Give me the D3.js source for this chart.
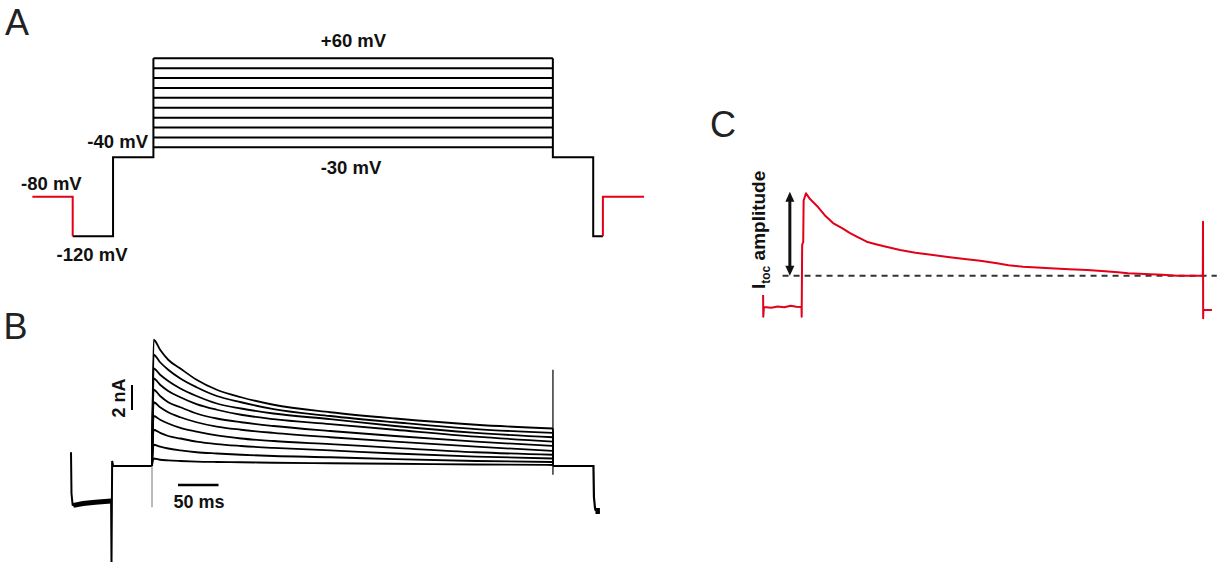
<!DOCTYPE html>
<html><head><meta charset="utf-8">
<script src="https://cdn.jsdelivr.net/npm/d3@7"></script>
<style>
html,body{margin:0;padding:0;background:#fff;}
svg{display:block;}
text{font-family:"Liberation Sans",Arial,sans-serif;}
</style></head><body>
<svg id="fig" width="1225" height="562"></svg>
<script>
// ================= DATA =================
// Panel A – voltage protocol (time in ms, potential in mV)
const testLevels = [-30, -20, -10, 0, 10, 20, 30, 40, 50, 60];
const holdingPre  = [[-50, -80], [0, -80], [0, -120]];
const stepPre     = [[0, -120], [50, -120], [50, -40], [100, -40], [100, 60]];
const stepPost    = [[595, 60], [595, -40], [645, -40], [645, -120], [657, -120]];
const holdingPost = [[657, -120], [657, -80], [708, -80]];
const pulseStart = 100, pulseEnd = 595;
const labelsA = ["+60 mV", "-30 mV", "-40 mV", "-80 mV", "-120 mV"];

// Panel B – current sweeps (time after pulse onset in ms, current in nA)
const sweepTimes = [0, 2, 10, 20, 35, 55, 80, 110, 150, 220, 300, 400, 495];
const sweepP60 = [0, 10.1, 9.3, 8.5, 7.8, 6.9, 6.1, 5.5, 4.9, 4.3, 3.8, 3.3, 3.0];
const sweepP50 = [0, 8.9, 8.3, 7.7, 7.0, 6.3, 5.6, 5.1, 4.55, 4.0, 3.5, 2.95, 2.65];
const sweepP40 = [0, 7.8, 7.3, 6.8, 6.2, 5.6, 5.0, 4.6, 4.2, 3.75, 3.2, 2.65, 2.3];
const sweepP30 = [0, 7.0, 6.5, 6.0, 5.5, 4.95, 4.5, 4.1, 3.75, 3.35, 2.9, 2.35, 1.95];
const sweepP20 = [0, 6.1, 5.6, 5.1, 4.7, 4.2, 3.8, 3.5, 3.2, 2.8, 2.4, 1.95, 1.6];
const sweepP10 = [0, 5.1, 4.7, 4.3, 3.9, 3.5, 3.15, 2.9, 2.65, 2.3, 1.95, 1.55, 1.2];
const sweep0   = [0, 4.0, 3.7, 3.4, 3.05, 2.75, 2.45, 2.2, 2.0, 1.75, 1.45, 1.1, 0.9];
const sweepM10 = [0, 2.9, 2.65, 2.4, 2.2, 1.95, 1.75, 1.6, 1.45, 1.25, 1.0, 0.75, 0.6];
const sweepM20 = [0, 1.7, 1.55, 1.4, 1.25, 1.1, 1.0, 0.9, 0.8, 0.7, 0.55, 0.4, 0.32];
const sweepM30 = [0, 0.6, 0.5, 0.45, 0.4, 0.35, 0.32, 0.3, 0.26, 0.22, 0.18, 0.12, 0.08];
// common part before the test pulse (ms from start, nA)
const prePulseTrace = [[0, 1.1], [0.6, -2.2], [2, -3.1], [5, -3.2], [15, -3.05], [30, -2.95],
                       [49.5, -2.8], [50, -7.9], [50.8, 0.4], [52, 0], [100, 0]];
const prePulseBand = [[3, -3.15], [15, -3.0], [30, -2.9], [49.5, -2.8]];
const postPulseTrace = [[595, 0], [645, 0], [645.6, -2.5], [647, -3.4], [648, -3.6]];
const postPulseBlob = [[647.5, -3.6], [653, -3.6]];
const onArtifact = [[100, 0], [100, -3.3]];
const offArtifact = [[595, 7.7], [595, -0.7]];
const scaleCurrent = 2;   // nA
const scaleTime = 50;     // ms

// Panel C – single I_toc trace (ms, nA)
const cTrace = [[52, 1.06], [52.2, -0.67], [53, 0.1], [62, 0.05], [70, 0.15], [78, 0.08],
  [86, 0.2], [93, 0.12], [99.4, 0.1], [99.6, -0.67], [100.2, 5.1], [101.5, 5.3], [102, 8.6],
  [104.9, 9.2], [109.9, 8.74], [119.8, 8.1], [128, 7.45], [138.3, 6.82], [150, 6.4],
  [159.3, 6.02], [170, 5.65], [179.9, 5.33], [190, 5.15], [200, 4.98], [221, 4.66],
  [240, 4.45], [261.7, 4.26], [280, 4.1], [303.3, 3.92], [320, 3.8], [340.7, 3.6],
  [355, 3.45], [372.8, 3.33], [390, 3.27], [406.2, 3.2], [430, 3.12], [451.9, 3.06],
  [470, 2.98], [490, 2.88], [502.5, 2.8], [530, 2.72], [545, 2.68], [563, 2.61],
  [594.8, 2.61], [595, 6.93], [595.2, -0.8], [595.4, -0.14], [606, -0.14]];
const cSteadyState = 2.6;
const cPeak = 9.2;
const cDashRange = [76, 612];

// ================= DRAW =================
const svg = d3.select("#fig");
svg.append("rect").attr("width", 1225).attr("height", 562).attr("fill", "#fff");
const RED = "#e2001a";

// panel letters
[["A", 5, 35], ["B", 3.5, 339], ["C", 710, 137]].forEach(([t, x, y]) =>
  svg.append("text").attr("x", x).attr("y", y).attr("font-size", 36)
     .attr("fill", "#222").text(t));

// ---------- Panel A ----------
const xA = d3.scaleLinear().domain([-50, 708]).range([32.35, 644.05]);
const yA = d3.scaleLinear().domain([-120, 60]).range([236.3, 58.3]);
const lineA = d3.line().x(d => xA(d[0])).y(d => yA(d[1]));
const gA = svg.append("g").attr("fill", "none").attr("stroke-width", 2);
gA.selectAll("path.lvl").data(testLevels).join("path").attr("class", "lvl")
  .attr("stroke", "#000").attr("d", v => lineA([[pulseStart, v], [pulseEnd, v]]));
gA.append("path").attr("stroke", "#000").attr("d", lineA(stepPre));
gA.append("path").attr("stroke", "#000").attr("d", lineA(stepPost));
gA.append("path").attr("stroke", RED).attr("d", lineA(holdingPre));
gA.append("path").attr("stroke", RED).attr("d", lineA(holdingPost));

const boldText = (x, y, t, anchor) => svg.append("text").attr("x", x).attr("y", y)
  .attr("font-size", 18.5).attr("font-weight", "bold").attr("fill", "#111")
  .attr("text-anchor", anchor || "start").text(t);
boldText(353.5, 47, labelsA[0], "middle");
boldText(351, 174, labelsA[1], "middle");
boldText(148, 148, labelsA[2], "end");
boldText(21, 190, labelsA[3], "start");
boldText(92, 261, labelsA[4], "middle");

// ---------- Panel B ----------
const xB = d3.scaleLinear().domain([0, 655]).range([71, 71 + 655 * 0.81]);
const yB = d3.scaleLinear().domain([0, 10]).range([466, 341]);
const lineB = d3.line().x(d => xB(d[0])).y(d => yB(d[1]));
const curveB = d3.line().x(d => xB(d[0])).y(d => yB(d[1])).curve(d3.curveMonotoneX);
const gB = svg.append("g").attr("fill", "none").attr("stroke", "#000");
const sweeps = [sweepP60, sweepP50, sweepP40, sweepP30, sweepP20, sweepP10, sweep0, sweepM10, sweepM20, sweepM30];
gB.selectAll("path.sw").data(sweeps).join("path").attr("class", "sw")
  .attr("stroke-width", 1.8)
  .attr("d", s => curveB(sweepTimes.map((t, i) => [pulseStart + t, s[i]])));
gB.selectAll("path.swend").data(sweeps).join("path").attr("class", "swend")
  .attr("stroke-width", 1.8)
  .attr("d", s => lineB([[pulseEnd, s[s.length - 1]], [pulseEnd, 0]]));
gB.append("path").attr("stroke-width", 2).attr("d", lineB(prePulseTrace));
gB.append("path").attr("stroke-width", 5).attr("d", lineB(prePulseBand));
gB.append("path").attr("stroke-width", 2.2).attr("d", lineB(postPulseTrace));
gB.append("path").attr("stroke-width", 6).attr("d", lineB(postPulseBlob));
gB.append("path").attr("stroke-width", 1).attr("stroke", "#777").attr("d", lineB(onArtifact));
gB.append("path").attr("stroke-width", 1.2).attr("d", lineB(offArtifact));

// scale bars
const sbX = 132, sbY0 = 410;
gB.append("line").attr("stroke-width", 2).attr("x1", sbX).attr("x2", sbX)
  .attr("y1", sbY0).attr("y2", sbY0 - (yB(0) - yB(scaleCurrent)));
svg.append("text").attr("transform", "translate(125,398) rotate(-90)")
  .attr("font-size", 18).attr("font-weight", "bold").attr("text-anchor", "middle")
  .attr("fill", "#111").text(scaleCurrent + " nA");
const tbX = 178, tbY = 485;
gB.append("line").attr("stroke-width", 2.5).attr("x1", tbX)
  .attr("x2", tbX + (xB(scaleTime) - xB(0))).attr("y1", tbY).attr("y2", tbY);
svg.append("text").attr("x", 199).attr("y", 508).attr("font-size", 18)
  .attr("font-weight", "bold").attr("text-anchor", "middle").attr("fill", "#111")
  .text(scaleTime + " ms");

// ---------- Panel C ----------
const xC = d3.scaleLinear().domain([100, 595]).range([802, 1203]);
const yC = d3.scaleLinear().domain([0, 10]).range([308.3, 183.3]);
const lineC = d3.line().x(d => xC(d[0])).y(d => yC(d[1]));
svg.append("line").attr("x1", xC(cDashRange[0])).attr("x2", xC(cDashRange[1]))
  .attr("y1", yC(cSteadyState)).attr("y2", yC(cSteadyState))
  .attr("stroke", "#333").attr("stroke-width", 2).attr("stroke-dasharray", "6,5");
svg.append("path").attr("fill", "none").attr("stroke", RED).attr("stroke-width", 2)
  .attr("stroke-linejoin", "round").attr("d", lineC(cTrace));

// double-headed arrow
const ax = xC(85), aTop = yC(cPeak) - 1.5, aBot = yC(cSteadyState);
const gArr = svg.append("g").attr("fill", "#111").attr("stroke", "#111");
gArr.append("line").attr("x1", ax).attr("x2", ax).attr("y1", aTop + 6).attr("y2", aBot - 6)
  .attr("stroke-width", 3);
gArr.append("path").attr("stroke", "none")
  .attr("d", `M${ax},${aTop} L${ax - 4.5},${aTop + 10} L${ax + 4.5},${aTop + 10} Z`);
gArr.append("path").attr("stroke", "none")
  .attr("d", `M${ax},${aBot} L${ax - 4.5},${aBot - 10} L${ax + 4.5},${aBot - 10} Z`);

// rotated label I_toc amplitude
const lab = svg.append("text").attr("transform", "translate(765,289) rotate(-90)")
  .attr("font-size", 19).attr("font-weight", "bold").attr("fill", "#111");
lab.append("tspan").text("I");
lab.append("tspan").attr("font-size", 12).attr("dy", 5).text("toc");
lab.append("tspan").attr("dy", -5).text(" amplitude");
</script>
</body></html>
